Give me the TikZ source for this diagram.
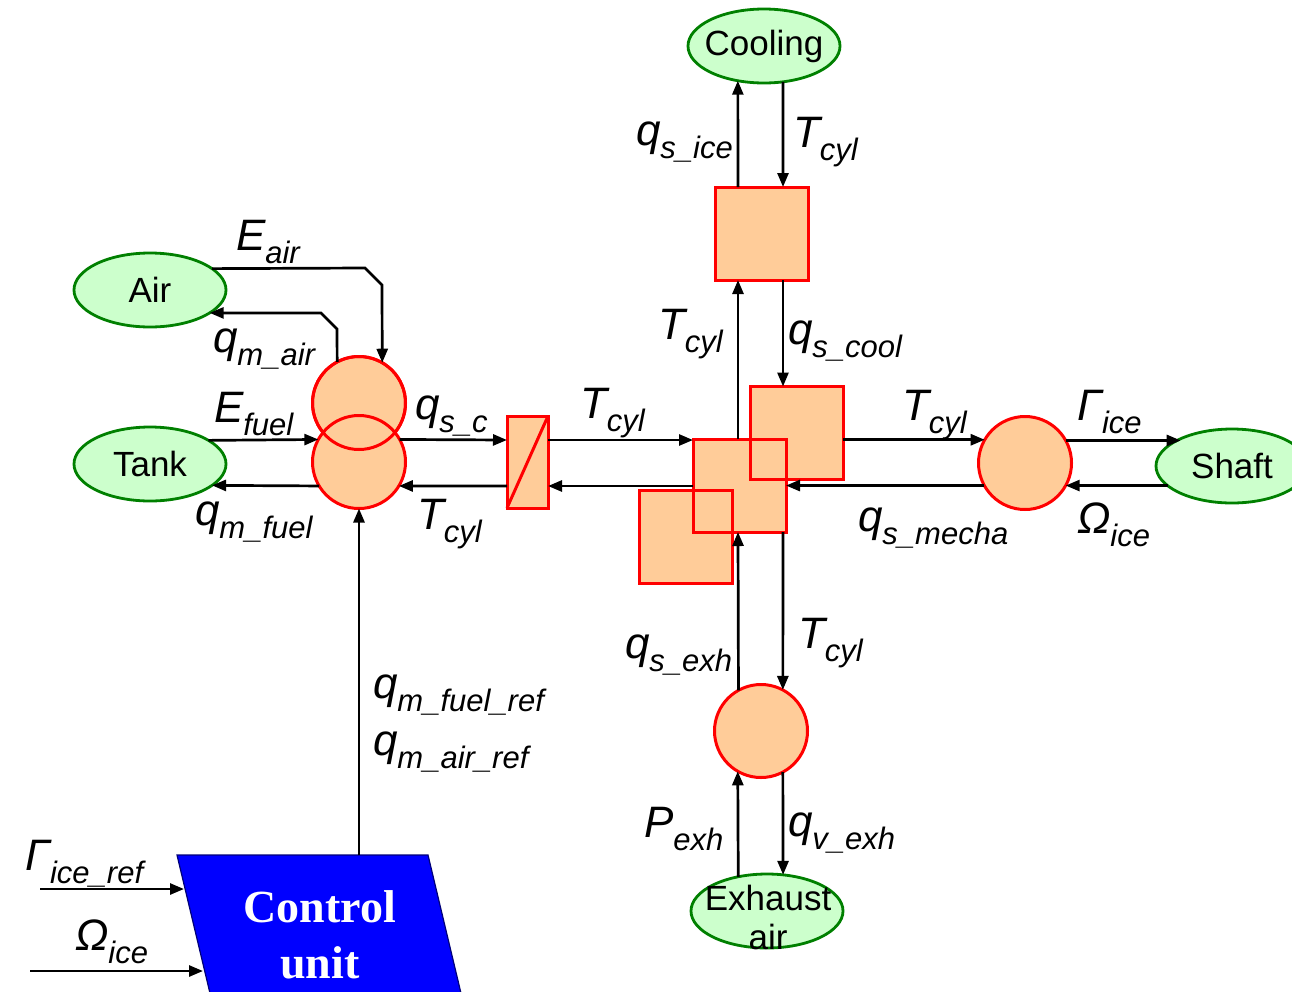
\documentclass[tikz,border=0pt]{standalone}
\usepackage{fontspec}
\setmainfont{Liberation Sans}
\newfontfamily\tnrfont{Liberation Serif}
\usetikzlibrary{arrows.meta,shapes.geometric,calc}
\definecolor{envfill}{RGB}{204,255,204}
\definecolor{envline}{RGB}{0,128,0}
\definecolor{orng}{RGB}{255,204,153}
\definecolor{cublue}{RGB}{0,0,255}
\definecolor{cuedge}{RGB}{0,0,120}
\newcommand{\lbl}[2]{\fontsize{44}{48}\selectfont\itshape #1\raisebox{-13pt}{\fontsize{31}{34}\selectfont #2}}
\newcommand{\zw}[1]{\makebox[0pt]{#1}}
\tikzset{
  env/.style={ellipse, draw=envline, fill=envfill, line width=2.8pt, inner sep=0pt, outer sep=0pt,
    minimum width=152pt, minimum height=74pt, font=\fontsize{35}{39}\selectfont},
  circ/.style={circle, draw=red, fill=orng, line width=3pt, minimum size=93pt, inner sep=0pt, outer sep=0pt},
  sq/.style={rectangle, draw=red, fill=orng, line width=3pt, minimum size=93pt, inner sep=0pt, outer sep=0pt},
  redline/.style={draw=red, line width=3pt},
  arr/.style={-{Triangle[length=14pt,width=11pt]}, line width=2.7pt},
  lab/.style={anchor=base west, inner sep=0pt, outer sep=0pt}
}
\begin{document}
\begin{tikzpicture}[x=1pt,y=-1pt]
\clip (0,0) rectangle (1292,991);
\fill[white] (0,0) rectangle (1292,991);

% level coordinates
\coordinate (yU) at (0,440);
\coordinate (yL) at (0,486);
\coordinate (xL) at (738,0);
\coordinate (xR) at (783,0);

% environment ellipses
\node[env] (air) at (150,290) {\zw{Air}};
\node[env] (tank) at (150,464) {\zw{Tank}};
\node[env] (cool) at (764,46) {\zw{Cooling}};
\node[env] (shaft) at (1232,466) {\zw{Shaft}};
\node[env] (exair) at (767,911) {};
\node[align=center, inner sep=0pt, font=\fontsize{35}{39}\selectfont] (exairtxt) at (768,917) {Exhaust\\air};

% left circles
\node[circ] (A) at (359,403) {};
\node[circ] (B) at (359,462) {};
\draw[redline] (A) circle (46.5);

% converter
\node[rectangle, draw=red, fill=orng, line width=3pt, minimum width=41pt, minimum height=92pt, inner sep=0pt, outer sep=0pt] (conv) at (527.5,462) {};
\draw[redline] (conv.south west) -- (conv.north east);

% central squares
\node[sq] (LL) at (685.5,537) {};
\node[sq] (M) at (739.5,485.5) {};
\node[sq] (UR) at (796.5,433) {};
\draw[redline] (LL.south west) rectangle (LL.north east);
\draw[redline] (M.south west) rectangle (M.north east);
\node[sq] (CS) at (761.5,233.5) {};

% other circles
\node[circ] (mech) at (1025,463) {};
\node[circ] (exhc) at (761,731) {};

% control unit
\fill[cublue] (177,855) -- (428,855) -- (465,1010) -- (214,1010) -- cycle;
\draw[cuedge, line width=1.2pt] (214,1010) -- (177,855) -- (428,855) -- (465,1010);
\node[align=center, inner sep=0pt, text=white, font=\tnrfont\bfseries\fontsize{46}{56}\selectfont] (cu) at (320,935) {Control\\unit};
\coordinate (cutop) at (359,855);
\coordinate (gin) at (40,889);
\coordinate (gend) at (184,889);
\coordinate (oin) at (30,971);
\coordinate (oend) at (203,971);

% connectors: air / tank
\coordinate (ea1) at (365,268);
\coordinate (ea2) at (382,285);
\draw[arr] (air.19.8) -- (ea1) -- (ea2) -- (A.60);
\coordinate (qa1) at (337,329);
\coordinate (qa2) at (321,313);
\draw[arr] (A.118) -- (qa1) -- (qa2) -- (air.-21.1);
\draw[arr] (tank.22.5) -- (B.151);
\draw[arr] (B.211) -- (tank.-19.8);

% circles <-> converter
\draw[arr] (B.29) -- (conv.west |- yU);
\draw[arr] (conv.west |- yL) -- (B.-31);
\draw[arr] (conv.east |- yU) -- (M.west |- yU);
\draw[arr] (M.west |- yL) -- (conv.east |- yL);

% cooling branch
\draw[arr] (CS.north -| xL) -- (cool.233.2);
\draw[arr] (cool.-62) -- (CS.north -| xR);
\draw[arr] (M.north -| xL) -- (CS.south -| xL);
\draw[arr] (CS.south -| xR) -- (UR.north -| xR);

% mechanical branch
\draw[arr] (UR.east |- mech.150.7) -- (mech.150.7);
\draw[arr] (mech.209.3) -- (M.east |- mech.209.3);
\draw[arr] (mech.29.3) -- (mech.29.3 -| shaft.152.9);
\draw[arr] (mech.-29.3 -| shaft.197.7) -- (mech.-29.3);

% exhaust branch
\draw[arr] (exhc.119.3) -- (M.south -| xL);
\draw[arr] (M.south -| xR) -- (exhc.62.1);
\draw[arr] (exair.130.4) -- (exhc.240.7);
\draw[arr] (exhc.-62.1) -- (exair.66.1);

% control
\draw[arr] (cutop) -- (B.south);
\draw[arr] (gin) -- (gend);
\draw[arr] (oin) -- (oend);

% labels
\node[lab] (lEair) at (236,250) {\lbl{E}{air}};
\node[lab] (lqmair) at (213,352) {\lbl{q}{m\_air}};
\node[lab] (lEfuel) at (214,422) {\lbl{E}{fuel}};
\node[lab] (lqmfuel) at (195,525) {\lbl{q}{m\_fuel}};
\node[lab] (lqsc) at (415,419) {\lbl{q}{s\_c}};
\node[lab] (lT1) at (417,529) {\lbl{T}{cyl}};
\node[lab] (lT2) at (580,418) {\lbl{T}{cyl}};
\node[lab] (lT3) at (658,339) {\lbl{T}{cyl}};
\node[lab] (lqscool) at (788,344) {\lbl{q}{s\_cool}};
\node[lab] (lqsice) at (636,145) {\lbl{q}{s\_ice}};
\node[lab] (lT4) at (793,147) {\lbl{T}{cyl}};
\node[lab] (lT5) at (902,420) {\lbl{T}{cyl}};
\node[lab] (lGice) at (1077,420) {\lbl{Γ}{ice}};
\node[lab] (lqsmecha) at (858,531) {\lbl{q}{s\_mecha}};
\node[lab] (lOice) at (1077,533) {\lbl{Ω}{ice}};
\node[lab] (lqsexh) at (625,658) {\lbl{q}{s\_exh}};
\node[lab] (lT6) at (798,648) {\lbl{T}{cyl}};
\node[lab] (lPexh) at (644,837) {\lbl{P}{exh}};
\node[lab] (lqvexh) at (788,836) {\lbl{q}{v\_exh}};
\node[lab] (lqmfref) at (373,698) {\lbl{q}{m\_fuel\_ref}};
\node[lab] (lqmaref) at (373,755) {\lbl{q}{m\_air\_ref}};
\node[lab] (lGref) at (25,870) {\lbl{Γ}{ice\_ref}};
\node[lab] (lOref) at (75,950) {\lbl{Ω}{ice}};
\end{tikzpicture}
\end{document}
